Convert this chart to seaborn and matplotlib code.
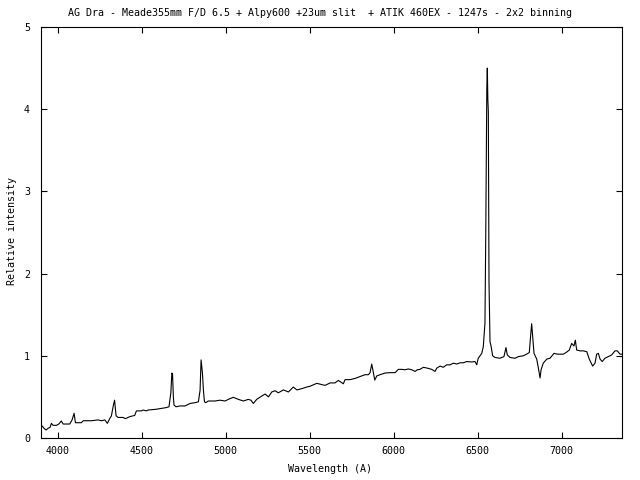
import matplotlib
matplotlib.use("Agg")
import matplotlib.pyplot as plt
import seaborn as sns
import pandas as pd

title = "AG Dra - Meade355mm F/D 6.5 + Alpy600 +23um slit  + ATIK 460EX - 1247s - 2x2 binning"
x_label = "Wavelength (A)"
y_label = "Relative intensity"
x_ticks = [4000, 4500, 5000, 5500, 6000, 6500, 7000]
y_ticks = [0, 1, 2, 3, 4, 5]

wavelength = [
    3902, 3907, 3918, 3930, 3942, 3954, 3962, 3972, 3992, 4006, 4021, 4032, 4071, 4085, 4097,
    4105, 4140, 4152, 4200, 4240, 4260, 4280, 4295, 4310, 4319, 4331, 4338, 4347, 4359, 4389,
    4402, 4429, 4458, 4468, 4498, 4508, 4527, 4537, 4587, 4617, 4646, 4662, 4673, 4679, 4683,
    4688, 4692, 4704, 4728, 4758, 4787, 4817, 4837, 4847, 4853, 4861, 4867, 4873, 4881, 4896,
    4936, 4966, 4996, 5015, 5045, 5075, 5105, 5134, 5150, 5164, 5184, 5214, 5234, 5254, 5274,
    5293, 5313, 5343, 5373, 5402, 5423, 5452, 5482, 5502, 5542, 5571, 5591, 5621, 5650, 5670,
    5700, 5710, 5740, 5770, 5789, 5809, 5829, 5849, 5859, 5869, 5879, 5887, 5899, 5918, 5948,
    5978, 6008, 6027, 6048, 6067, 6087, 6107, 6127, 6140, 6156, 6176, 6200, 6226, 6246, 6256,
    6276, 6295, 6315, 6335, 6355, 6375, 6395, 6414, 6434, 6464, 6484, 6494, 6503, 6524, 6533,
    6543, 6548, 6554, 6557, 6560, 6563, 6567, 6573, 6579, 6589, 6603, 6632, 6656, 6668, 6676,
    6692, 6722, 6742, 6771, 6791, 6807, 6815, 6821, 6827, 6835, 6851, 6861, 6871, 6877, 6890,
    6911, 6930, 6954, 6974, 7010, 7026, 7045, 7059, 7073, 7081, 7089, 7109, 7129, 7149, 7164,
    7184, 7198, 7208, 7218, 7228, 7241, 7257, 7277, 7297, 7317, 7331, 7347, 7357,
]
intensity = [
    0.14, 0.146, 0.118, 0.097, 0.118, 0.13, 0.178, 0.154, 0.154, 0.17, 0.207, 0.17, 0.17, 0.22, 0.30,
    0.186, 0.186, 0.21, 0.21, 0.22, 0.21, 0.22, 0.178, 0.24, 0.268, 0.40, 0.46, 0.27, 0.25, 0.25,
    0.235, 0.26, 0.275, 0.33, 0.33, 0.34, 0.33, 0.34, 0.35, 0.36, 0.37, 0.38, 0.55, 0.79, 0.78,
    0.50, 0.40, 0.38, 0.39, 0.39, 0.42, 0.43, 0.44, 0.58, 0.95, 0.79, 0.58, 0.44, 0.43, 0.45,
    0.45, 0.46, 0.45, 0.47, 0.495, 0.47, 0.45, 0.47, 0.46, 0.42, 0.47, 0.51, 0.535, 0.50, 0.56,
    0.575, 0.55, 0.585, 0.56, 0.62, 0.585, 0.60, 0.62, 0.63, 0.665, 0.65, 0.64, 0.67, 0.67, 0.70,
    0.66, 0.71, 0.71, 0.725, 0.74, 0.755, 0.77, 0.77, 0.795, 0.90, 0.79, 0.705, 0.755, 0.77, 0.79,
    0.795, 0.795, 0.835, 0.835, 0.83, 0.84, 0.83, 0.81, 0.83, 0.835, 0.86, 0.85, 0.835, 0.81, 0.85,
    0.875, 0.86, 0.89, 0.89, 0.91, 0.90, 0.915, 0.915, 0.93, 0.925, 0.93, 0.89, 0.97, 1.03, 1.11,
    1.40, 2.55, 4.25, 4.50, 4.13, 3.97, 1.90, 1.17, 1.12, 1.00, 0.98, 0.97, 0.99, 1.10, 1.01,
    0.98, 0.97, 0.99, 1.00, 1.02, 1.04, 1.25, 1.39, 1.23, 1.03, 0.96, 0.85, 0.73, 0.83, 0.91,
    0.96, 0.97, 1.03, 1.02, 1.02, 1.04, 1.07, 1.15, 1.12, 1.19, 1.07, 1.06, 1.06, 1.05, 0.96,
    0.875, 0.91, 1.02, 1.03, 0.96, 0.93, 0.97, 0.99, 1.01, 1.06, 1.06, 1.02, 1.02,
]

df = pd.DataFrame({"wavelength": wavelength, "intensity": intensity})

sns.set_theme(style="ticks")
plt.rcParams["font.family"] = ["DejaVu Sans Mono"]

fig = plt.figure(figsize=(6.4, 4.8), dpi=100)
ax = fig.add_axes([41 / 640, 42 / 480, 580.7 / 640, 411 / 480])
sns.lineplot(data=df, x="wavelength", y="intensity", ax=ax, color="black",
             linewidth=0.8, sort=False, estimator=None)

ax.set_xlim(3900, 7357)
ax.set_ylim(0, 5)
ax.set_xticks(x_ticks)
ax.set_yticks(y_ticks)
ax.set_xlabel("")
ax.set_ylabel("")
ax.tick_params(axis="both", direction="in", top=True, right=True, length=4.5,
               width=0.8, color="black", labelsize=7.2, labelcolor="black")
ax.tick_params(axis="x", pad=6)
ax.tick_params(axis="y", pad=8)
for s in ax.spines.values():
    s.set_color("black")
    s.set_linewidth(0.8)

fig.text(320 / 640, 1 - 13 / 480, title, ha="center", va="center", fontsize=7.2, color="black")
fig.text(330 / 640, 1 - 469 / 480, x_label, ha="center", va="center", fontsize=7.2, color="black")
fig.text(12 / 640, 1 - 231 / 480, y_label, ha="center", va="center", rotation=90,
         fontsize=7.2, color="black")

fig.savefig("out.png", dpi=100, facecolor="white")
